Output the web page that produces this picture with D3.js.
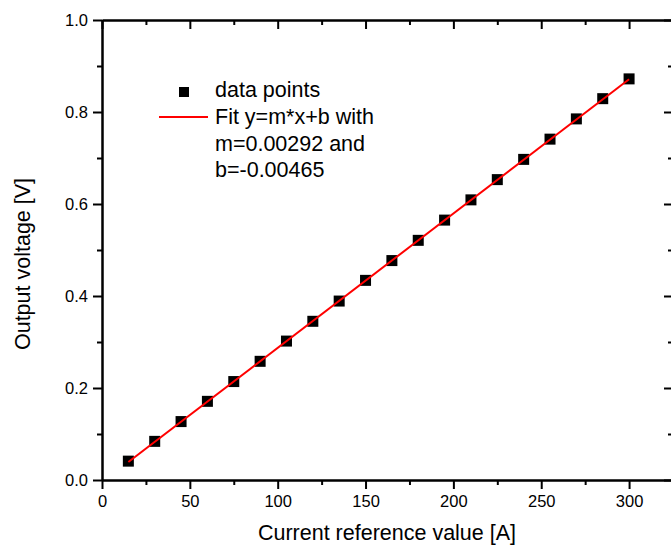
<!DOCTYPE html>
<html>
<head>
<meta charset="utf-8">
<script src="https://cdn.jsdelivr.net/npm/d3@7"></script>
<style>
  html, body { margin: 0; padding: 0; background: #fff; }
  svg { display: block; font-family: "Liberation Sans", Arial, sans-serif; }
</style>
</head>
<body>
<svg id="chart" width="671" height="547"></svg>
<script>
// Calibration: reference current vs. measured output voltage
const currents = [15, 30, 45, 60, 75, 90, 105, 120, 135, 150, 165, 180, 195, 210, 225, 240, 255, 270, 285, 300];
const voltages = [0.041, 0.084, 0.127, 0.171, 0.214, 0.258, 0.302, 0.345, 0.389, 0.434, 0.477, 0.521, 0.565, 0.609, 0.653, 0.697, 0.741, 0.785, 0.829, 0.872];
const fitSlope = 0.00292;
const fitIntercept = -0.00465;
const xTicks = [0, 50, 100, 150, 200, 250, 300];
const yTicks = [0.0, 0.2, 0.4, 0.6, 0.8, 1.0];
const legendLines = ["Fit y=m*x+b with", "m=0.00292 and", "b=-0.00465"];

const svg = d3.select("#chart");
const plotL = 102, plotR = 673, plotT = 20, plotB = 480;

const x = d3.scaleLinear().domain([0, 325]).range([plotL, plotR]);
const y = d3.scaleLinear().domain([0, 1]).range([plotB, plotT]);

const xMinor = d3.range(25, 325, 50);
const yMinor = d3.range(0.1, 1.0, 0.2);

function styleAxis(g) {
  g.select(".domain").attr("stroke", "#000").attr("stroke-width", 2);
  g.selectAll(".tick line").attr("stroke", "#000").attr("stroke-width", 2);
  g.selectAll(".tick text").attr("fill", "#000").attr("font-size", 16.5)
    .attr("font-family", "Liberation Sans, Arial, sans-serif");
}

// bottom axis: ticks outward with labels
svg.append("g").attr("transform", `translate(0,${plotB})`)
  .call(d3.axisBottom(x).tickValues(xTicks).tickFormat(d3.format("d")).tickSize(9).tickPadding(6).tickSizeOuter(0))
  .call(styleAxis);
svg.append("g").attr("transform", `translate(0,${plotB})`)
  .call(d3.axisBottom(x).tickValues(xMinor).tickFormat("").tickSize(5).tickSizeOuter(0))
  .call(styleAxis);

// left axis
svg.append("g").attr("transform", `translate(${plotL},0)`)
  .call(d3.axisLeft(y).tickValues(yTicks).tickFormat(d3.format(".1f")).tickSize(9).tickPadding(5).tickSizeOuter(0))
  .call(styleAxis);
svg.append("g").attr("transform", `translate(${plotL},0)`)
  .call(d3.axisLeft(y).tickValues(yMinor).tickFormat("").tickSize(5).tickSizeOuter(0))
  .call(styleAxis);

// top axis: ticks pointing inward
svg.append("g").attr("transform", `translate(0,${plotT})`)
  .call(d3.axisTop(x).tickValues(xTicks).tickFormat("").tickSize(-9).tickSizeOuter(0))
  .call(styleAxis);
svg.append("g").attr("transform", `translate(0,${plotT})`)
  .call(d3.axisTop(x).tickValues(xMinor).tickFormat("").tickSize(-5).tickSizeOuter(0))
  .call(styleAxis);

// right axis: ticks pointing inward
svg.append("g").attr("transform", `translate(${plotR},0)`)
  .call(d3.axisRight(y).tickValues(yTicks).tickFormat("").tickSize(-9).tickSizeOuter(0))
  .call(styleAxis);
svg.append("g").attr("transform", `translate(${plotR},0)`)
  .call(d3.axisRight(y).tickValues(yMinor).tickFormat("").tickSize(-5).tickSizeOuter(0))
  .call(styleAxis);

// axis titles
svg.append("text")
  .attr("x", 387).attr("y", 540)
  .attr("text-anchor", "middle").attr("font-size", 21.5).attr("fill", "#000")
  .text("Current reference value [A]");
svg.append("text")
  .attr("transform", `translate(30,264) rotate(-90)`)
  .attr("text-anchor", "middle").attr("font-size", 21.5).attr("fill", "#000")
  .text("Output voltage [V]");

// data markers
const sz = 11;
svg.append("g").selectAll("rect").data(currents)
  .join("rect")
  .attr("x", (d) => x(d) - sz / 2)
  .attr("y", (d, i) => y(voltages[i]) - sz / 2)
  .attr("width", sz).attr("height", sz)
  .attr("fill", "#000");

// linear fit line across the measured range
const xExt = d3.extent(currents);
svg.append("path")
  .datum(xExt)
  .attr("d", d3.line().x((d) => x(d)).y((d) => y(fitSlope * d + fitIntercept)))
  .attr("stroke", "#ff0000").attr("stroke-width", 2).attr("fill", "none");

// legend
const lg = svg.append("g");
lg.append("rect").attr("x", 179).attr("y", 87).attr("width", 10).attr("height", 10).attr("fill", "#000");
lg.append("text").attr("x", 215).attr("y", 97).attr("font-size", 21.5).attr("fill", "#000").text("data points");
lg.append("line").attr("x1", 159).attr("x2", 208).attr("y1", 117).attr("y2", 117)
  .attr("stroke", "#ff0000").attr("stroke-width", 2);
lg.selectAll("text.fit").data(legendLines).join("text")
  .attr("class", "fit")
  .attr("x", 215).attr("y", (d, i) => 124 + i * 26.7)
  .attr("font-size", 21.5).attr("fill", "#000")
  .text((d) => d);
</script>
</body>
</html>
